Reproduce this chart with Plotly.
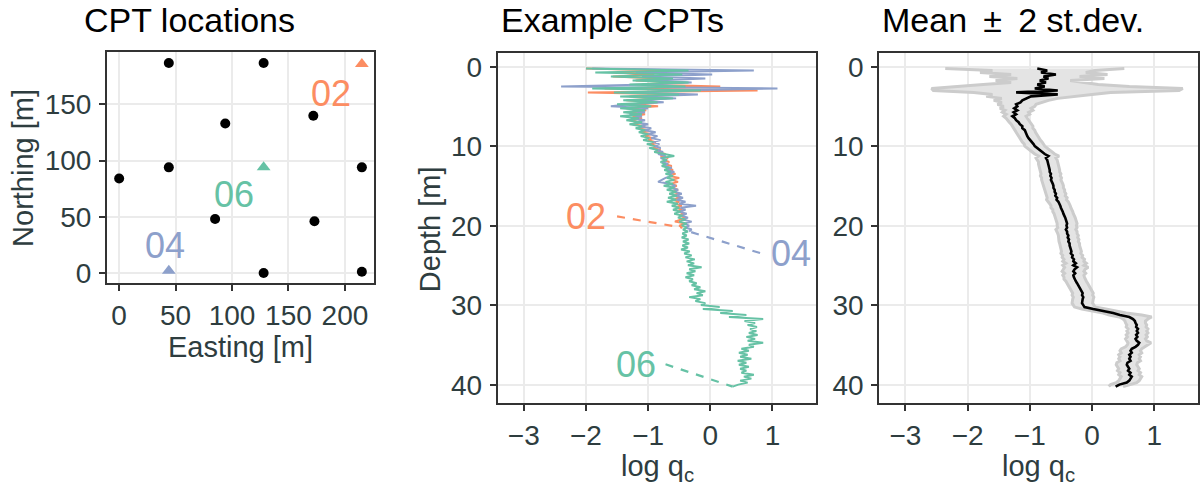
import plotly.graph_objects as go

# ---------------------------------------------------------------- data
# CPT locations (easting, northing) in metres
cpt_east = [0, 44, 128, 94, 172, 44, 215, 85, 173, 128, 215]
cpt_north = [84, 187, 187, 133, 140, 94, 94, 48, 46, 0, 1]

# highlighted example soundings
example_ids = ["02", "04", "06"]
example_east = [215, 44, 128]
example_north = [186, 2, 94]
example_colors = ["#FC8D62", "#8DA0CB", "#66C2A5"]

# log qc profiles, sampled every 0.25 m starting at 0.2 m depth
DEPTH_TOP = 0.2
DEPTH_STEP = 0.25

logqc_02 = [
    -2.00, -0.68, -1.50, -0.90, -1.57, -0.81, -1.20, -0.50, -1.10, 0.16,
    -1.70, 0.76, -1.97, -0.40, -1.30, -0.70, -1.35, -0.84, -1.25, -0.84,
    -1.35, -1.03, -1.30, -1.05, -1.25, -1.10, -1.30, -1.15, -1.25, -1.05,
    -1.15, -1.00, -1.10, -0.95, -1.05, -0.92, -1.00, -0.88, -0.96, -0.86,
    -0.92, -0.80, -0.86, -0.72, -0.80, -0.68, -0.76, -0.66, -0.74, -0.62,
    -0.70, -0.60, -0.68, -0.56, -0.66, -0.50, -0.62, -0.52, -0.64, -0.54,
    -0.62, -0.52, -0.60, -0.50, -0.58, -0.48, -0.60, -0.50, -0.56, -0.46,
    -0.55, -0.45, -0.52, -0.42, -0.50, -0.40, -0.48, -0.57, -0.40, -0.50,
    -0.45,
]

logqc_04 = [
    -1.90, 0.70, -1.20, 0.03, -1.10, -0.08, -0.90, -0.30, -1.00, -2.40,
    1.08, -0.60, -1.20, -0.20, -1.10, -0.55, -1.20, -0.75, -1.30, -1.60,
    -1.00, -1.25, -1.05, -1.30, -1.10, -1.25, -1.05, -1.20, -1.00, -1.15,
    -0.95, -1.05, -0.88, -1.00, -0.85, -0.95, -0.80, -0.92, -0.82, -0.90,
    -0.80, -0.88, -0.76, -0.84, -0.72, -0.80, -0.70, -0.78, -0.68, -0.74,
    -0.62, -0.70, -0.58, -0.66, -0.62, -0.72, -0.78, -0.84, -0.66, -0.56,
    -0.64, -0.52, -0.58, -0.46, -0.56, -0.44, -0.54, -0.40, -0.50, -0.23,
    -0.48, -0.40, -0.50, -0.38, -0.46, -0.36, -0.44, -0.30, -0.42, -0.34,
    -0.40, -0.30, -0.34,
]

logqc_06 = [
    -2.00, -0.35, -1.85, -0.45, -1.60, -0.60, -1.25, -0.35, -1.30, -0.40,
    -1.90, -0.15, -1.55, -0.50, -1.45, -0.60, -1.40, -0.85, -1.50, -0.95,
    -1.45, -1.05, -1.40, -1.10, -1.45, -1.15, -1.35, -1.10, -1.30, -1.10,
    -1.20, -1.05, -1.15, -1.00, -1.12, -0.98, -1.08, -0.92, -1.02, -0.90,
    -0.98, -0.85, -0.90, -0.75, -0.58, -0.78, -0.70, -0.80, -0.72, -0.78,
    -0.66, -0.74, -0.64, -0.72, -0.60, -0.70, -0.58, -0.72, -0.60, -0.75,
    -0.58, -0.70, -0.55, -0.66, -0.54, -0.68, -0.55, -0.70, -0.52, -0.62,
    -0.50, -0.60, -0.48, -0.58, -0.45, -0.52, -0.40, -0.50, -0.38, -0.46,
    -0.38, -0.44, -0.36, -0.45, -0.38, -0.46, -0.35, -0.44, -0.34, -0.45,
    -0.36, -0.47, -0.33, -0.42, -0.30, -0.40, -0.25, -0.38, -0.26, -0.36,
    -0.14, -0.34, -0.24, -0.38, -0.26, -0.40, -0.28, -0.34, -0.22, -0.30,
    -0.16, -0.26, -0.08, -0.22, -0.12, -0.34, -0.16, -0.24, -0.08, -0.15,
    0.15, -0.12, 0.36, 0.16, 0.58, 0.30, 0.85, 0.55, 0.72, 0.60,
    0.75, 0.64, 0.74, 0.62, 0.76, 0.58, 0.72, 0.60, 0.85, 0.62,
    0.70, 0.50, 0.62, 0.46, 0.60, 0.48, 0.66, 0.44, 0.58, 0.46,
    0.62, 0.48, 0.58, 0.50, 0.70, 0.54, 0.66, 0.48, 0.60, 0.45,
    0.36,
]

# mean profile with lower / upper bounds of the +-2 st.dev. band
mean_logqc = [
    -0.88, -0.72, -0.82, -0.58, -0.78, -0.70, -0.84, -0.74, -0.88, -0.76,
    -0.92, -0.55, -1.22, -0.55, -0.98, -1.05, -1.12, -1.15, -1.22, -1.20,
    -1.25, -1.20, -1.26, -1.22, -1.28, -1.24, -1.22, -1.18, -1.16, -1.12,
    -1.12, -1.08, -1.07, -1.05, -1.04, -1.02, -0.99, -0.96, -0.94, -0.92,
    -0.88, -0.84, -0.80, -0.76, -0.70, -0.74, -0.72, -0.71, -0.70, -0.70,
    -0.69, -0.68, -0.68, -0.66, -0.67, -0.65, -0.66, -0.64, -0.63, -0.62,
    -0.62, -0.60, -0.60, -0.58, -0.59, -0.56, -0.57, -0.54, -0.52, -0.51,
    -0.50, -0.48, -0.47, -0.46, -0.44, -0.43, -0.42, -0.41, -0.40, -0.41,
    -0.40, -0.42, -0.40, -0.40, -0.38, -0.39, -0.37, -0.38, -0.36, -0.36,
    -0.35, -0.34, -0.33, -0.34, -0.31, -0.32, -0.29, -0.30, -0.26, -0.30,
    -0.24, -0.28, -0.30, -0.27, -0.30, -0.29, -0.28, -0.26, -0.24, -0.22,
    -0.20, -0.18, -0.16, -0.15, -0.16, -0.14, -0.15, -0.16, -0.16, -0.14,
    -0.12, 0.02, 0.20, 0.34, 0.45, 0.60, 0.66, 0.69, 0.70, 0.72,
    0.71, 0.74, 0.72, 0.74, 0.71, 0.73, 0.70, 0.72, 0.76, 0.74,
    0.70, 0.64, 0.62, 0.64, 0.60, 0.62, 0.60, 0.62, 0.57, 0.56,
    0.58, 0.60, 0.58, 0.62, 0.60, 0.64, 0.62, 0.60, 0.56, 0.44,
    0.38,
]

band_lower = [
    -2.36, -1.60, -1.80, -1.30, -1.65, -1.20, -1.55, -1.30, -1.75, -2.10,
    -2.58, -2.55, -1.90, -1.60, -1.70, -1.45, -1.58, -1.45, -1.52, -1.42,
    -1.48, -1.40, -1.44, -1.38, -1.42, -1.38, -1.36, -1.33, -1.30, -1.28,
    -1.27, -1.24, -1.22, -1.21, -1.18, -1.17, -1.14, -1.12, -1.09, -1.08,
    -1.04, -0.99, -0.96, -0.92, -0.86, -0.90, -0.88, -0.86, -0.86, -0.85,
    -0.84, -0.84, -0.83, -0.82, -0.83, -0.81, -0.81, -0.80, -0.79, -0.78,
    -0.77, -0.76, -0.75, -0.74, -0.74, -0.72, -0.73, -0.70, -0.68, -0.66,
    -0.66, -0.63, -0.63, -0.61, -0.60, -0.58, -0.58, -0.56, -0.56, -0.56,
    -0.55, -0.58, -0.56, -0.55, -0.54, -0.54, -0.53, -0.53, -0.52, -0.51,
    -0.51, -0.49, -0.49, -0.50, -0.47, -0.48, -0.45, -0.47, -0.42, -0.47,
    -0.44, -0.46, -0.48, -0.44, -0.47, -0.45, -0.45, -0.42, -0.40, -0.38,
    -0.37, -0.34, -0.32, -0.31, -0.32, -0.30, -0.31, -0.32, -0.32, -0.30,
    -0.28, -0.16, 0.02, 0.18, 0.28, 0.44, 0.50, 0.53, 0.54, 0.56,
    0.55, 0.58, 0.56, 0.58, 0.55, 0.57, 0.54, 0.56, 0.58, 0.57,
    0.54, 0.47, 0.45, 0.47, 0.43, 0.45, 0.43, 0.45, 0.40, 0.39,
    0.41, 0.43, 0.41, 0.45, 0.43, 0.47, 0.45, 0.43, 0.39, 0.30,
    0.27,
]

band_upper = [
    0.52, 0.05, -0.10, 0.25, -0.20, 0.20, -0.35, -0.10, 0.10, 0.60,
    1.46, 1.40, 0.30, 0.00, -0.30, -0.55, -0.70, -0.80, -0.90, -0.92,
    -0.98, -0.95, -1.02, -1.00, -1.06, -1.04, -1.02, -0.99, -0.98, -0.95,
    -0.95, -0.92, -0.91, -0.89, -0.88, -0.86, -0.83, -0.80, -0.78, -0.76,
    -0.72, -0.68, -0.64, -0.60, -0.53, -0.58, -0.56, -0.55, -0.54, -0.54,
    -0.53, -0.52, -0.52, -0.50, -0.51, -0.49, -0.50, -0.48, -0.47, -0.46,
    -0.46, -0.44, -0.44, -0.42, -0.43, -0.40, -0.41, -0.38, -0.36, -0.35,
    -0.34, -0.32, -0.31, -0.30, -0.28, -0.27, -0.26, -0.25, -0.24, -0.25,
    -0.24, -0.26, -0.24, -0.24, -0.22, -0.23, -0.21, -0.22, -0.20, -0.20,
    -0.19, -0.18, -0.17, -0.18, -0.15, -0.16, -0.12, -0.13, -0.09, -0.13,
    -0.06, -0.11, -0.13, -0.10, -0.13, -0.12, -0.11, -0.09, -0.07, -0.05,
    -0.03, -0.01, 0.01, 0.02, 0.01, 0.03, 0.02, 0.01, 0.01, 0.03,
    0.05, 0.22, 0.40, 0.55, 0.80, 0.96, 0.90, 0.86, 0.86, 0.88,
    0.87, 0.90, 0.88, 0.90, 0.87, 0.89, 0.86, 0.88, 0.95, 0.90,
    0.86, 0.80, 0.78, 0.80, 0.76, 0.78, 0.76, 0.78, 0.73, 0.72,
    0.74, 0.76, 0.74, 0.78, 0.76, 0.80, 0.78, 0.76, 0.72, 0.60,
    0.50,
]


def depths(n):
    return [round(DEPTH_TOP + DEPTH_STEP * i, 2) for i in range(n)]


profiles = {"02": logqc_02, "04": logqc_04, "06": logqc_06}

# ---------------------------------------------------------------- style
W, H = 1201, 487
FONT = "Liberation Sans, Arial, sans-serif"
AXIS_TXT = "#2E3D3F"
GRID = "#EBEBEB"
BORDER = "#333333"


def px(x):
    return x / W


def py(y):
    return 1 - y / H


fig = go.Figure()

# --- panel 1: locations
fig.add_trace(go.Scatter(
    x=cpt_east, y=cpt_north, mode="markers",
    marker=dict(color="black", size=10),
    xaxis="x", yaxis="y", showlegend=False, hoverinfo="skip"))
for cid, e, n, c in zip(example_ids, example_east, example_north, example_colors):
    fig.add_trace(go.Scatter(
        x=[e], y=[n], mode="markers",
        marker=dict(color=c, size=12, symbol="triangle-up"),
        xaxis="x", yaxis="y", showlegend=False, hoverinfo="skip"))

# --- panel 2: example CPT profiles
for cid, c in zip(example_ids, example_colors):
    vals = profiles[cid]
    fig.add_trace(go.Scatter(
        x=vals, y=depths(len(vals)), mode="lines",
        line=dict(color=c, width=2),
        xaxis="x2", yaxis="y2", showlegend=False, hoverinfo="skip"))

# --- panel 3: mean +- 2 st.dev.
d_all = depths(len(mean_logqc))
fig.add_trace(go.Scatter(
    x=band_lower + band_upper[::-1], y=d_all + d_all[::-1],
    mode="lines", fill="toself", fillcolor="rgba(228,228,228,1)",
    line=dict(width=0), xaxis="x3", yaxis="y3",
    showlegend=False, hoverinfo="skip"))
for edge in (band_lower, band_upper):
    fig.add_trace(go.Scatter(
        x=edge, y=d_all, mode="lines",
        line=dict(color="#CCCCCC", width=3),
        xaxis="x3", yaxis="y3", showlegend=False, hoverinfo="skip"))
fig.add_trace(go.Scatter(
    x=mean_logqc, y=d_all, mode="lines",
    line=dict(color="black", width=2.6),
    xaxis="x3", yaxis="y3", showlegend=False, hoverinfo="skip"))

# --- labels for the example soundings
map_label_pos = {"02": (188, 160), "04": (41, 24), "06": (102, 70)}
cpt_label_pos = {"02": (-2.0, 18.8), "04": (1.30, 23.4), "06": (-1.2, 37.4)}
seg_start = {"02": (-1.50, 18.8), "04": (0.80, 23.4), "06": (-0.72, 37.4)}

annotations = []
for cid, c in zip(example_ids, example_colors):
    mx, my = map_label_pos[cid]
    annotations.append(dict(x=mx, y=my, xref="x", yref="y", text=cid,
                            showarrow=False, font=dict(size=36, color=c, family=FONT)))
    lx, ly = cpt_label_pos[cid]
    annotations.append(dict(x=lx, y=ly, xref="x2", yref="y2", text=cid,
                            showarrow=False, font=dict(size=36, color=c, family=FONT)))
    vals = profiles[cid]
    sx, sy = seg_start[cid]
    fig.add_trace(go.Scatter(
        x=[sx, vals[-1]], y=[sy, depths(len(vals))[-1]], mode="lines",
        line=dict(color=c, width=2.2, dash="8px,8px"),
        xaxis="x2", yaxis="y2", showlegend=False, hoverinfo="skip"))

# titles
for txt, x0 in (("CPT locations", 82), ("Example CPTs", 499),
                 ("Mean\u2009 ±\u2009 2 st.dev.", 880)):
    annotations.append(dict(x=px(x0), y=py(19), xref="paper", yref="paper",
                            xanchor="left", yanchor="middle", text=txt,
                            showarrow=False,
                            font=dict(size=34, color="black", family=FONT)))

# axis titles
axis_titles = [
    ("Easting [m]", 240.5, 350, 0),
    ("log q<sub>c</sub>", 657, 473, 0),
    ("log q<sub>c</sub>", 1038.5, 473, 0),
    ("Northing [m]", 23, 169, -90),
    ("Depth [m]", 430, 231, -90),
]
for txt, x0, y0, ang in axis_titles:
    annotations.append(dict(x=px(x0), y=py(y0), xref="paper", yref="paper",
                            xanchor="center", yanchor="middle", text=txt,
                            textangle=ang, showarrow=False,
                            font=dict(size=29, color=AXIS_TXT, family=FONT)))


def axis(domain, rng, ticks, anchor, standoff):
    return dict(domain=domain, range=rng, tickvals=ticks, anchor=anchor,
                showgrid=True, gridcolor=GRID, gridwidth=2, zeroline=False,
                showline=True, mirror=True, linecolor=BORDER, linewidth=2,
                ticks="outside", ticklen=6, tickwidth=1.5, tickcolor=BORDER,
                tickfont=dict(size=28, color=AXIS_TXT, family=FONT),
                ticklabelstandoff=standoff, fixedrange=True)


p1x = [px(107), px(374)]
p1y = [py(286), py(52)]
p2x = [px(497.7), px(816)]
p3x = [px(879.3), px(1197.7)]
pdy = [py(407.3), py(52.3)]
qc_range = [-3.42, 1.70]
depth_range = [42.3, -1.8]
qc_ticks = [-3, -2, -1, 0, 1]
depth_ticks = [0, 10, 20, 30, 40]

fig.update_layout(
    width=W, height=H,
    margin=dict(l=0, r=0, t=0, b=0),
    paper_bgcolor="white", plot_bgcolor="white",
    font=dict(family=FONT),
    xaxis=axis(p1x, [-10.75, 225.75], [0, 50, 100, 150, 200], "y", 0),
    yaxis=axis(p1y, [-9.4, 196.4], [0, 50, 100, 150], "x", 2),
    xaxis2=axis(p2x, qc_range, qc_ticks, "y2", 0),
    yaxis2=axis(pdy, depth_range, depth_ticks, "x2", 2),
    xaxis3=axis(p3x, qc_range, qc_ticks, "y3", 0),
    yaxis3=axis(pdy, depth_range, depth_ticks, "x3", 2),
    annotations=annotations,
)

fig.write_html("out.html")
